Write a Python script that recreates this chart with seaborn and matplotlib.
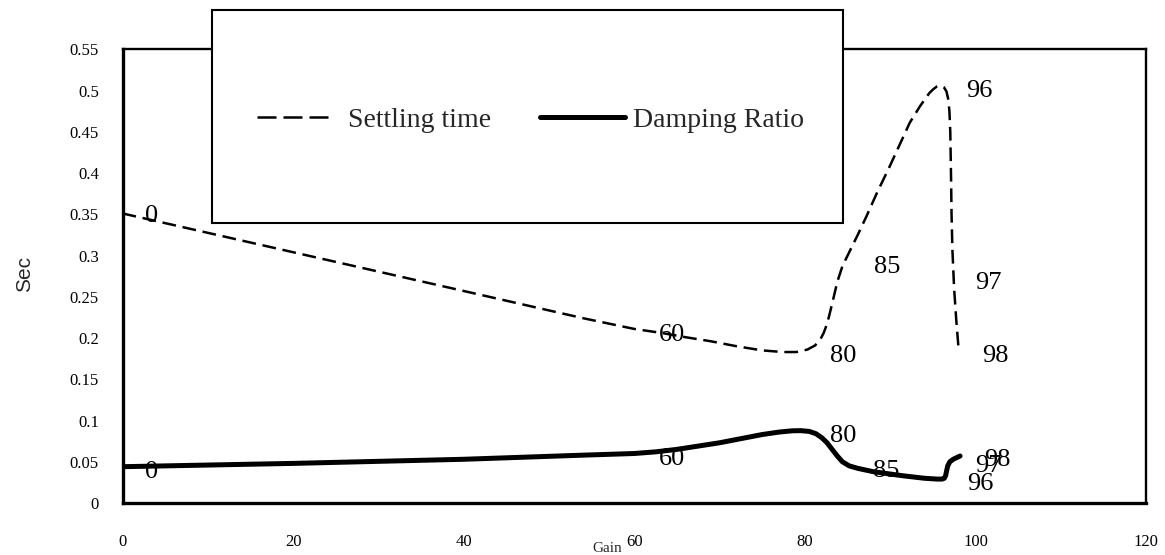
import matplotlib
matplotlib.use("Agg")
import matplotlib.pyplot as plt
import seaborn as sns
import pandas as pd
from matplotlib.lines import Line2D
from matplotlib.patches import Rectangle
from matplotlib.ticker import FuncFormatter

# ---- data ----
settling_gain = [0, 20, 40, 54, 60, 63.3, 66, 69, 72, 75, 77.4, 79, 80.3, 81.2, 81.8,
                 82.2, 82.6, 82.9, 83.3, 83.8, 84.4, 85.2, 86.2, 87.2, 88.5, 89.9,
                 91.1, 92.3, 93.5, 94.6, 95.1, 95.5, 95.9, 96.3, 96.6, 96.8, 96.95,
                 97.05, 97.1, 97.15, 97.2, 97.3, 97.5, 97.75, 98]
settling_sec = [0.351, 0.304, 0.257, 0.224, 0.211, 0.206, 0.201, 0.196, 0.190, 0.185,
                0.183, 0.183, 0.186, 0.191, 0.198, 0.206, 0.217, 0.229, 0.246, 0.268,
                0.287, 0.304, 0.325, 0.347, 0.377, 0.407, 0.434, 0.461, 0.481, 0.497,
                0.502, 0.505, 0.506, 0.504, 0.499, 0.490, 0.475, 0.450, 0.420, 0.388,
                0.350, 0.307, 0.260, 0.222, 0.190]

damping_gain = [0, 20, 40, 54, 60, 62.5, 65, 67.5, 70, 72.5, 75, 77, 78.5, 79.5, 80.5,
                81.3, 82, 82.6, 83.2, 83.8, 84.4, 85.2, 86.2, 88, 91.5, 94, 95.5,
                96.1, 96.35, 96.5, 96.6, 96.75, 97.0, 97.4, 97.8, 98.2]
damping_ratio = [0.044, 0.048, 0.053, 0.058, 0.060, 0.062, 0.065, 0.069, 0.073, 0.078,
                 0.083, 0.086, 0.0875, 0.0877, 0.0868, 0.084, 0.079, 0.073, 0.065,
                 0.057, 0.050, 0.045, 0.042, 0.038, 0.033, 0.030, 0.029, 0.029, 0.030,
                 0.033, 0.038, 0.045, 0.050, 0.053, 0.055, 0.057]

settling_labels = ["0", "60", "80", "85", "96", "97", "98"]
settling_label_x = [3.4, 64.4, 84.5, 89.6, 100.5, 101.5, 102.3]
settling_label_y = [0.348, 0.204, 0.178, 0.286, 0.500, 0.267, 0.178]

damping_labels = ["0", "60", "80", "85", "96", "97", "98"]
damping_label_x = [3.4, 64.4, 84.5, 89.5, 100.6, 101.5, 102.6]
damping_label_y = [0.038, 0.053, 0.081, 0.039, 0.023, 0.045, 0.052]

x_ticks = [0, 20, 40, 60, 80, 100, 120]
y_ticks = [0, 0.05, 0.1, 0.15, 0.2, 0.25, 0.3, 0.35, 0.4, 0.45, 0.5, 0.55]

# ---- style ----
sns.set_style("white")
plt.rcParams['font.family'] = ['Liberation Serif', 'DejaVu Serif']

fig = plt.figure(figsize=(11.65, 5.55), dpi=100)
ax = fig.add_axes([0.1052, 0.0937, 0.8785, 0.8175])

df_s = pd.DataFrame({"Gain": settling_gain, "Sec": settling_sec})
df_d = pd.DataFrame({"Gain": damping_gain, "Sec": damping_ratio})

sns.lineplot(data=df_s, x="Gain", y="Sec", sort=False, estimator=None, ax=ax,
             color="black", linewidth=1.8)
ax.lines[-1].set_linestyle((0, (5.5, 2.7)))
sns.lineplot(data=df_d, x="Gain", y="Sec", sort=False, estimator=None, ax=ax,
             color="black", linewidth=3.6)
ax.lines[-1].set_solid_capstyle("round")
ax.lines[-1].set_solid_joinstyle("round")

for t, x, y in zip(settling_labels, settling_label_x, settling_label_y):
    ax.text(x, y, t, ha="center", va="center", fontsize=19, color="black")
for t, x, y in zip(damping_labels, damping_label_x, damping_label_y):
    ax.text(x, y, t, ha="center", va="center", fontsize=19, color="black")

ax.set_xlim(0, 120)
ax.set_ylim(0, 0.55)
ax.set_xticks(x_ticks)
ax.set_yticks(y_ticks)
ax.yaxis.set_major_formatter(FuncFormatter(lambda v, p: f"{v:g}"))
ax.xaxis.set_major_formatter(FuncFormatter(lambda v, p: f"{v:g}"))
ax.tick_params(axis="both", direction="in", length=3, width=1.3, colors="black",
               labelsize=12)
ax.tick_params(axis="x", pad=22)
ax.tick_params(axis="y", pad=17)
ax.set_xlabel("")
ax.set_ylabel("")

for side in ["left", "bottom"]:
    ax.spines[side].set_linewidth(2.4)
    ax.spines[side].set_color("black")
for side in ["top", "right"]:
    ax.spines[side].set_linewidth(1.7)
    ax.spines[side].set_color("black")

# legend box (extends above the plot area)
box = Rectangle((0.0874, 0.617), 0.704 - 0.0874, 1.0866 - 0.617,
                transform=ax.transAxes, facecolor="white", edgecolor="black",
                linewidth=1.5, clip_on=False, zorder=8)
ax.add_patch(box)

h1 = Line2D([], [], color="black", linewidth=1.8, linestyle=(0, (7.6, 2.8)))
h2 = Line2D([], [], color="black", linewidth=3.6)
leg1 = ax.legend(handles=[h1], labels=["Settling time"], loc="center left",
                 bbox_to_anchor=(0.1314, 0.844), frameon=False, handlelength=2.55,
                 handletextpad=0.72, borderpad=0, borderaxespad=0, fontsize=20)
leg1.set_zorder(10)
ax.add_artist(leg1)
leg2 = ax.legend(handles=[h2], labels=["Damping Ratio"], loc="center left",
                 bbox_to_anchor=(0.4079, 0.844), frameon=False, handlelength=3.06,
                 handletextpad=0.29, borderpad=0, borderaxespad=0, fontsize=20)
leg2.set_zorder(10)

fig.text(25 / 1165, 1 - 274 / 555, "Sec", rotation=90, ha="center", va="center",
         fontsize=15, family=["Liberation Sans", "DejaVu Sans"])
fig.text(607 / 1165, 1 - 549 / 555, "Gain", ha="center", va="center", fontsize=11)

fig.savefig("out.png", dpi=100)
